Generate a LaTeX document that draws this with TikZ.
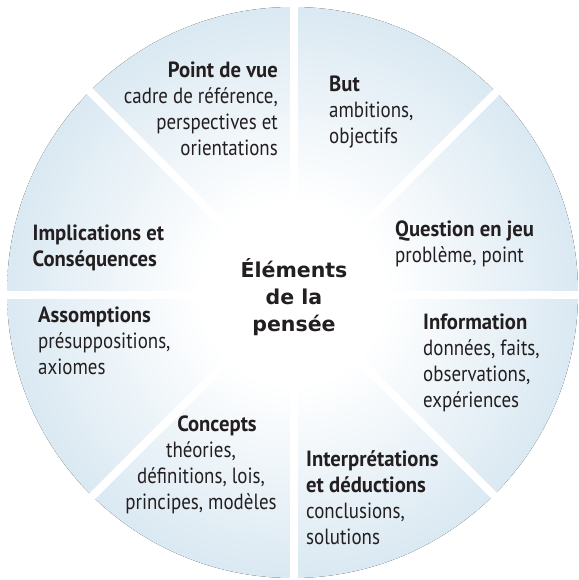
\documentclass[tikz,border=0pt]{standalone}
\usepackage{fontspec}
\setmainfont{PT Sans}[FakeStretch=0.86, BoldFeatures={FakeStretch=0.94}]
\newfontfamily\centrefont{DejaVu Sans}
\usetikzlibrary{calc}
\definecolor{pedge}{RGB}{164,200,223}
\definecolor{ptext}{RGB}{35,31,32}
\pgfdeclareradialshading{pensee}{\pgfpoint{0bp}{0bp}}{color(0bp)=(white); color(8bp)=(white); color(50bp)=(pedge)}
\newcommand\plines[2]{\begin{tabular}[t]{@{}#1@{}}#2\end{tabular}}
\tikzset{
  lbl/.style={inner sep=0pt, text=ptext, font=\fontsize{22}{26}\selectfont},
  ctr/.style={inner sep=0pt, text=ptext, font=\centrefont\bfseries\fontsize{20.5}{27}\selectfont},
  gap/.style={draw=white, line width=8pt}
}
\begin{document}
\begin{tikzpicture}[x=1pt,y=-1pt]
\useasboundingbox[fill=white] (0,0) rectangle (578,580);
\coordinate (O) at (292.5,292.5);
\coordinate (C) at (293.5,295);
\fill[shading=pensee] (O) circle (285.5);
\foreach \a in {0,45,...,315}{
  \coordinate (e\a) at ($(C)+(\a:300)$);
  \draw[gap] (C) -- (e\a);
}
\node[ctr, anchor=base] (centre) at (294,277) {\plines{c}{Éléments\\de la\\pensée}};
\node[lbl, anchor=base east] (pdv) at (278,78) {\plines{r}{\textbf{Point de vue}\\cadre de référence,\\perspectives et\\orientations}};
\node[lbl, anchor=base west] (but) at (329,92) {\plines{l}{\textbf{But}\\ambitions,\\objectifs}};
\node[lbl, anchor=base west] (qej) at (395,236) {\plines{l}{\textbf{Question en jeu}\\problème, point}};
\node[lbl, anchor=base west] (info) at (423,329) {\plines{l}{\textbf{Information}\\données, faits,\\observations,\\expériences}};
\node[lbl, anchor=base west] (interp) at (306,466) {\plines{l}{\textbf{Interprétations}\\\textbf{et déductions}\\conclusions,\\solutions}};
\node[lbl, anchor=base] (concepts) at (201,431) {\plines{c}{\hspace*{32pt}\textbf{Concepts}\\théories,\\définitions, lois,\\principes, modèles}};
\node[lbl, anchor=base west] (assomp) at (38,322.5) {\plines{l}{\textbf{Assomptions}\\présuppositions,\\axiomes}};
\node[lbl, anchor=base west] (impl) at (32.5,240) {\plines{l}{\textbf{Implications et}\\\textbf{Conséquences}}};
\end{tikzpicture}
\end{document}
